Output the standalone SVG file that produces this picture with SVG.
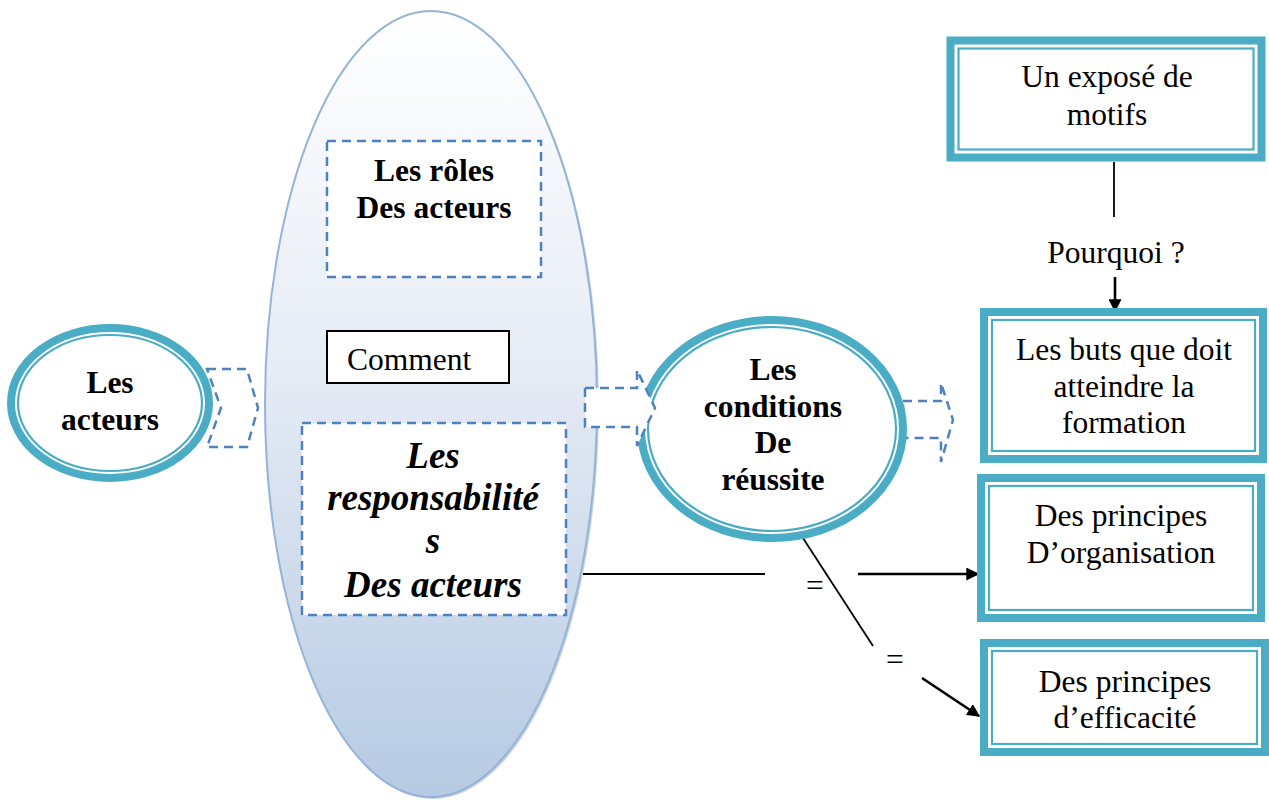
<svg xmlns="http://www.w3.org/2000/svg" width="1269" height="800" viewBox="0 0 1269 800">
  <style>
    .t { font-family: "Liberation Serif", "Times New Roman", serif; font-size: 31.5px; fill: #000; text-anchor: middle; }
    .b { font-weight: bold; }
    .bi { font-weight: bold; font-style: italic; font-size: 37px; }
    .ring { fill: #fff; stroke: #4BACC6; stroke-width: 8; }
    .ring-in { fill: none; stroke: #4BACC6; stroke-width: 2.2; }
    .dash { stroke: #4F81BD; stroke-width: 2.5; stroke-dasharray: 9 6; }
    .line { stroke: #000; stroke-width: 1.8; fill: none; }
    .arrow { stroke: #000; stroke-width: 2.6; fill: none; }
  </style>
  <defs>
    <linearGradient id="ovalFill" x1="0" y1="0" x2="0" y2="1">
      <stop offset="0" stop-color="#FFFFFF"/>
      <stop offset="0.45" stop-color="#E6ECF5"/>
      <stop offset="1" stop-color="#B6CAE3"/>
    </linearGradient>
    <marker id="head" viewBox="0 0 10 10" refX="9" refY="5" markerWidth="5" markerHeight="5" markerUnits="strokeWidth" orient="auto">
      <path d="M0,0 L10,5 L0,10 Z" fill="#000"/>
    </marker>
  </defs>

  <rect width="1269" height="800" fill="#fff"/>

  <!-- large central oval -->
  <g id="oval">
    <ellipse cx="433" cy="406" rx="166" ry="393" fill="#9FB3CC" opacity="0.55"/>
    <ellipse cx="431" cy="404" rx="166" ry="393" fill="url(#ovalFill)" stroke="#95B3D7" stroke-width="2"/>
  </g>

  <g id="roles">
    <rect x="327" y="141" width="214" height="136" fill="#fff" class="dash"/>
    <text class="t b" x="434" y="181">Les rôles</text>
    <text class="t b" x="434" y="218">Des acteurs</text>
  </g>

  <g id="comment">
    <rect x="327" y="331" width="182" height="52" fill="#fff" stroke="#000" stroke-width="2"/>
    <text class="t" x="347" y="370" text-anchor="start" style="text-anchor:start">Comment</text>
  </g>

  <g id="responsabilites">
    <rect x="302" y="423" width="264" height="192" fill="#fff" class="dash"/>
    <text class="t bi" x="433" y="468">Les</text>
    <text class="t bi" x="433" y="510">responsabilité</text>
    <text class="t bi" x="433" y="553">s</text>
    <text class="t bi" x="433" y="597">Des acteurs</text>
  </g>

  <!-- connectors -->
  <g id="connectors">
    <line class="line" x1="583" y1="574" x2="765" y2="574"/>
    <line class="arrow" x1="858" y1="574" x2="978" y2="574" marker-end="url(#head)"/>
    <line class="line" x1="801" y1="535" x2="873" y2="646"/>
    <line class="arrow" x1="922" y1="678" x2="979" y2="716" marker-end="url(#head)"/>
    <line class="line" x1="1114" y1="162" x2="1114" y2="217"/>
    <line class="arrow" x1="1115" y1="277" x2="1115" y2="311" marker-end="url(#head)"/>
    <text class="t" x="815" y="596">=</text>
    <text class="t" x="895" y="670">=</text>
    <text class="t" x="1116" y="263">Pourquoi ?</text>
  </g>

  <!-- left node -->
  <g id="acteurs">
    <ellipse class="ring" cx="110" cy="403" rx="99" ry="75"/>
    <ellipse class="ring-in" cx="110" cy="403" rx="92" ry="68"/>
    <text class="t b" x="110" y="393">Les</text>
    <text class="t b" x="110" y="430">acteurs</text>
    <polygon class="dash" fill="none" points="207,369 247,369 258,408 247,447 207,447 221,408"/>
  </g>

  <!-- centre node -->
  <g id="conditions">
    <polygon class="dash" fill="none" points="903,401 941,401 941,383 953,420 941,462 941,438 903,438"/>
    <ellipse class="ring" cx="772" cy="429" rx="131" ry="109"/>
    <ellipse class="ring-in" cx="772" cy="429" rx="124" ry="102"/>
    <polygon class="dash" fill="#fff" points="585,388 637,388 637,370 655,408 637,446 637,427 585,427"/>
    <text class="t b" x="773" y="380">Les</text>
    <text class="t b" x="773" y="417">conditions</text>
    <text class="t b" x="773" y="453">De</text>
    <text class="t b" x="773" y="490">réussite</text>
  </g>

  <!-- right-hand boxes -->
  <g id="motifs">
    <rect class="ring" x="950.5" y="40.5" width="311" height="117"/>
    <rect class="ring-in" x="958.5" y="48.5" width="295" height="101"/>
    <text class="t" x="1107" y="87">Un exposé de</text>
    <text class="t" x="1107" y="125">motifs</text>
  </g>

  <g id="buts">
    <rect class="ring" x="984" y="312" width="279" height="147"/>
    <rect class="ring-in" x="992" y="320" width="263" height="131"/>
    <text class="t" x="1124" y="360">Les buts que doit</text>
    <text class="t" x="1124" y="397">atteindre la</text>
    <text class="t" x="1124" y="433">formation</text>
  </g>

  <g id="organisation">
    <rect class="ring" x="981" y="478" width="280" height="140"/>
    <rect class="ring-in" x="989" y="486" width="264" height="124"/>
    <text class="t" x="1121" y="526">Des principes</text>
    <text class="t" x="1121" y="563">D’organisation</text>
  </g>

  <g id="efficacite">
    <rect class="ring" x="984" y="643" width="281" height="109"/>
    <rect class="ring-in" x="992" y="651" width="265" height="93"/>
    <text class="t" x="1125" y="692">Des principes</text>
    <text class="t" x="1125" y="728">d’efficacité</text>
  </g>
</svg>
